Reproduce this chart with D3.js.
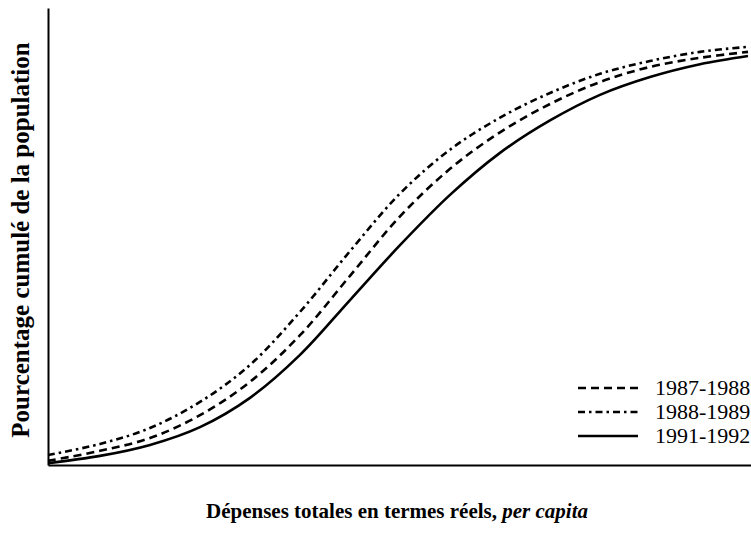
<!DOCTYPE html>
<html><head><meta charset="utf-8">
<script src="https://cdn.jsdelivr.net/npm/d3@7"></script>
<style>body{margin:0;background:#fff}svg{display:block}</style>
</head><body>
<svg id="c" width="751" height="539"></svg>
<script>
const xValues = [0, 52, 102, 152, 202, 252, 302, 352, 402, 452, 502, 552, 602, 652, 700];
const series1987 = [0.9, 3.1, 5.9, 10.9, 18.2, 28.4, 41.4, 54.4, 64.8, 72.8, 79.0, 83.8, 87.1, 89.1, 90.4];
const series1988 = [2.2, 4.6, 8.1, 13.8, 21.9, 33.5, 46.8, 59.4, 69.0, 76.0, 81.4, 85.6, 88.4, 90.4, 91.5];
const series1991 = [0.4, 2.0, 4.4, 8.3, 14.7, 24.1, 36.1, 48.1, 59.1, 68.3, 75.4, 81.0, 84.9, 87.7, 89.5];
const seriesNames = ["1987-1988", "1988-1989", "1991-1992"];
const yLabel = "Pourcentage cumulé de la population";
const xLabelMain = "Dépenses totales en termes réels, ";
const xLabelItalic = "per capita";

const svg = d3.select("#c");
const x = d3.scaleLinear().domain([0, 703]).range([48, 751]);
const y = d3.scaleLinear().domain([0, 100]).range([465, 8]);

const styles = [
  {dash: "8,5"},
  {dash: "7,4,2.5,4"},
  {dash: null}
];
const allSeries = [series1987, series1988, series1991];

const line = d3.line().x(d => x(d[0])).y(d => y(d[1])).curve(d3.curveCatmullRom.alpha(0.5));
allSeries.forEach((s, i) => {
  const pts = xValues.map((xv, j) => [xv, s[j]]);
  svg.append("path").attr("d", line(pts)).attr("fill", "none")
    .attr("stroke", "#000").attr("stroke-width", 2.6)
    .attr("stroke-dasharray", styles[i].dash);
});

// axes (no ticks)
const xAxis = d3.axisBottom(x).tickValues([]).tickSizeOuter(0);
const yAxis = d3.axisLeft(y).tickValues([]).tickSizeOuter(0);
svg.append("g").attr("transform", "translate(0,465)").call(xAxis)
  .select(".domain").attr("stroke-width", 2);
svg.append("g").attr("transform", "translate(48,0)").call(yAxis)
  .select(".domain").attr("stroke-width", 2);

// labels
svg.append("text").attr("transform", "translate(29,240) rotate(-90)")
  .attr("text-anchor", "middle").attr("font-family", "Liberation Serif")
  .attr("font-weight", "bold").attr("font-size", 25).text(yLabel);
const xt = svg.append("text").attr("x", 397).attr("y", 518).attr("text-anchor", "middle")
  .attr("font-family", "Liberation Serif").attr("font-weight", "bold").attr("font-size", 21);
xt.append("tspan").text(xLabelMain);
xt.append("tspan").attr("font-style", "italic").text(xLabelItalic);

// legend
const legendY = [388, 412, 436];
seriesNames.forEach((n, i) => {
  svg.append("line").attr("x1", 578).attr("x2", 638).attr("y1", legendY[i]).attr("y2", legendY[i])
    .attr("stroke", "#000").attr("stroke-width", 2.4).attr("stroke-dasharray", styles[i].dash);
  svg.append("text").attr("x", 655).attr("y", legendY[i] + 7).attr("font-family", "Liberation Serif")
    .attr("font-size", 22).text(n);
});
</script>
</body></html>
